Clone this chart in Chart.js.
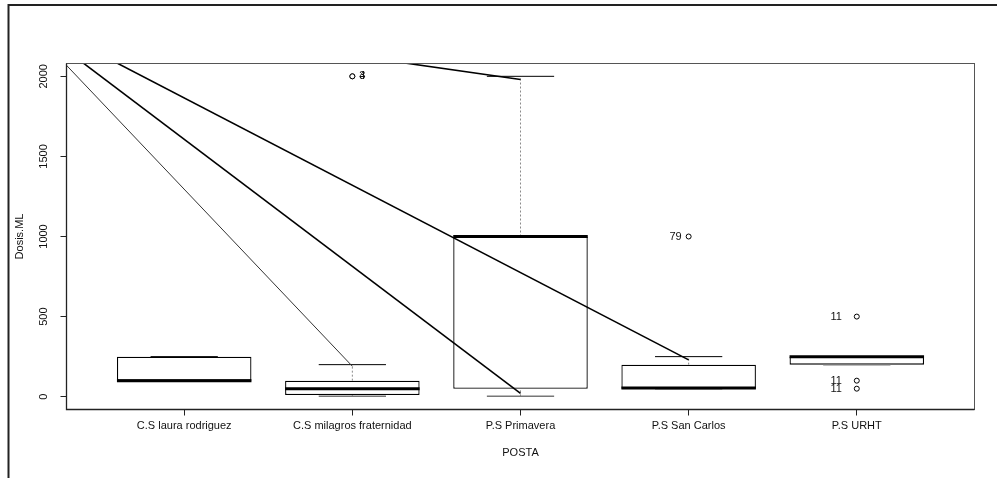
<!DOCTYPE html>
<html>
<head>
<meta charset="utf-8">
<script src="https://cdn.jsdelivr.net/npm/chart.js@4/dist/chart.umd.min.js"></script>
<style>
  html, body { margin: 0; padding: 0; background: #fff; }
  #wrap { width: 997px; height: 478px; position: relative; }
</style>
</head>
<body>
<div id="wrap"><canvas id="c" width="997" height="478"></canvas></div>
<script>
// ---- data ----
const categories = ["C.S laura rodriguez", "C.S milagros fraternidad", "P.S Primavera", "P.S San Carlos", "P.S URHT"];
const whiskerLow  = [100,   2,    2,   50, 200];
const q1          = [100,  10,   50,   50, 200];
const median      = [100,  50, 1000,   55, 250];
const q3          = [250, 100, 1000,  200, 250];
const whiskerHigh = [250, 200, 2000,  250, 250];

const outlierCat   = [2, 2, 4, 5, 5, 5];
const outlierValue = [2000, 2000, 1000, 500, 100, 50];
const outlierLabel = ["3", "4", "79", "11", "11", "11"];

const lineStartX = [0, 0, 0, 0];
const lineStartY = [2400, 2400, 2410, 2430];
const lineEndX   = [2, 3, 4, 3];
const lineEndY   = [190, 20, 230, 1980];

const yTicks = [0, 500, 1000, 1500, 2000];
const xTitle = "POSTA";
const yTitle = "Dosis.ML";

// ---- helpers building library datasets ----
function segments(fn) {
  const pts = [];
  categories.forEach((c, i) => {
    const s = fn(i + 1, i);
    pts.push(s[0], s[1]);
    pts.push({ x: i + 1.5, y: null });
  });
  return pts;
}
const boxHalf = 0.4, capHalf = 0.2;

const boxData = categories.map((c, i) => ({ x: i + 1, y: [q1[i], q3[i]] }));
const medianData = segments((x, i) => [{ x: x - boxHalf, y: median[i] }, { x: x + boxHalf, y: median[i] }]);
const capHighData = segments((x, i) => [{ x: x - capHalf, y: whiskerHigh[i] }, { x: x + capHalf, y: whiskerHigh[i] }]);
const capLowData = segments((x, i) => [{ x: x - capHalf, y: whiskerLow[i] }, { x: x + capHalf, y: whiskerLow[i] }]);
const whiskerUpData = segments((x, i) => [{ x: x, y: q3[i] }, { x: x, y: whiskerHigh[i] }]);
const whiskerDownData = segments((x, i) => [{ x: x, y: whiskerLow[i] }, { x: x, y: q1[i] }]);
const outlierData = outlierCat.map((c, i) => ({ x: c, y: outlierValue[i] }));

const lineWidths = [1, 1.6, 1.6, 1.6];
const lineColors = ['#333', '#000', '#000', '#000'];
const diagDatasets = lineStartX.map((sx, i) => ({
  type: 'line',
  data: [{ x: sx, y: lineStartY[i] }, { x: lineEndX[i], y: lineEndY[i] }],
  borderColor: lineColors[i], borderWidth: lineWidths[i],
  pointRadius: 0, fill: false, order: 1
}));

const FONT = "'Liberation Sans', Arial, Helvetica, sans-serif";

const framePlugin = {
  id: 'frame',
  afterDraw(chart) {
    const ctx = chart.ctx, a = chart.chartArea;
    ctx.save();
    ctx.strokeStyle = '#222';
    ctx.lineWidth = 2;
    ctx.beginPath();
    ctx.moveTo(997, 5); ctx.lineTo(8.5, 5); ctx.lineTo(8.5, 478);
    ctx.stroke();
    ctx.lineWidth = 1;
    ctx.strokeStyle = '#555';
    ctx.strokeRect(a.left, a.top, a.right - a.left, a.bottom - a.top);
    ctx.strokeStyle = '#222';
    ctx.lineWidth = 1.3;
    ctx.beginPath();
    ctx.moveTo(a.left, a.top); ctx.lineTo(a.left, a.bottom); ctx.lineTo(a.right, a.bottom);
    ctx.stroke();
    ctx.restore();
  }
};

const labelDx = [7, 7, -7, -15, -15, -15];
const outlierLabelPlugin = {
  id: 'outlierLabels',
  afterDatasetsDraw(chart) {
    const ctx = chart.ctx, xs = chart.scales.x, ys = chart.scales.y;
    ctx.save();
    ctx.font = "11px " + FONT;
    ctx.fillStyle = '#111';
    ctx.textBaseline = 'middle';
    outlierCat.forEach((c, i) => {
      const px = xs.getPixelForValue(c), py = ys.getPixelForValue(outlierValue[i]);
      const dx = labelDx[i];
      ctx.textAlign = dx > 0 ? 'left' : 'right';
      ctx.fillText(outlierLabel[i], px + dx, py);
    });
    ctx.restore();
  }
};

new Chart(document.getElementById('c'), {
  data: {
    datasets: [
      { type: 'bar', data: boxData, backgroundColor: '#fff', borderColor: '#000', borderWidth: 1.3,
        borderSkipped: false, barPercentage: 0.8, categoryPercentage: 1, order: 10 },
      { type: 'line', data: whiskerUpData, borderColor: '#8a8a8a', borderWidth: 1, borderDash: [2, 2],
        pointRadius: 0, spanGaps: false, order: 8 },
      { type: 'line', data: whiskerDownData, borderColor: '#8a8a8a', borderWidth: 1, borderDash: [2, 2],
        pointRadius: 0, spanGaps: false, order: 8 },
      { type: 'line', data: medianData, borderColor: '#000', borderWidth: 3,
        pointRadius: 0, spanGaps: false, order: 6 },
      { type: 'line', data: capHighData, borderColor: '#000', borderWidth: 1,
        pointRadius: 0, spanGaps: false, order: 6 },
      { type: 'line', data: capLowData, borderColor: '#777', borderWidth: 1.5,
        pointRadius: 0, spanGaps: false, order: 6 },
      { type: 'scatter', data: outlierData, pointStyle: 'circle', pointRadius: 2.5,
        pointBackgroundColor: '#fff', pointBorderColor: '#000', pointBorderWidth: 1, order: 4 },
      ...diagDatasets
    ]
  },
  options: {
    responsive: false,
    animation: false,
    devicePixelRatio: 1,
    layout: { padding: { left: 0.5, top: 63.5, right: 22.5, bottom: 0 } },
    plugins: { legend: { display: false }, tooltip: { enabled: false } },
    scales: {
      x: {
        type: 'linear', min: 0.3, max: 5.7, position: 'bottom', offset: false,
        afterBuildTicks: s => { s.ticks = categories.map((c, i) => ({ value: i + 1 })); },
        afterFit: s => { s.height = 68.5; },
        ticks: {
          autoSkip: false, maxRotation: 0, minRotation: 0, padding: 4,
          color: '#111', font: { family: FONT, size: 11 },
          callback: v => categories[Math.round(v) - 1]
        },
        grid: { offset: false, drawOnChartArea: false, drawTicks: true, tickLength: 6, color: '#222', lineWidth: 1 },
        border: { display: false },
        title: { display: true, text: xTitle, color: '#111', font: { family: FONT, size: 11 },
                 padding: { top: 0, bottom: 18.4 } }
      },
      y: {
        type: 'linear', min: -80, max: 2080, position: 'left',
        afterBuildTicks: s => { s.ticks = yTicks.map(v => ({ value: v })); },
        afterFit: s => { s.width = 66; },
        ticks: {
          minRotation: 90, maxRotation: 90, crossAlign: 'center', padding: 4,
          color: '#111', font: { family: FONT, size: 11 },
          callback: v => String(v)
        },
        grid: { drawOnChartArea: false, drawTicks: true, tickLength: 6, color: '#222', lineWidth: 1 },
        border: { display: false },
        title: { display: true, text: yTitle, color: '#111', font: { family: FONT, size: 11 },
                 padding: { top: 13, bottom: 0 } }
      }
    }
  },
  plugins: [framePlugin, outlierLabelPlugin]
});
</script>
</body>
</html>
